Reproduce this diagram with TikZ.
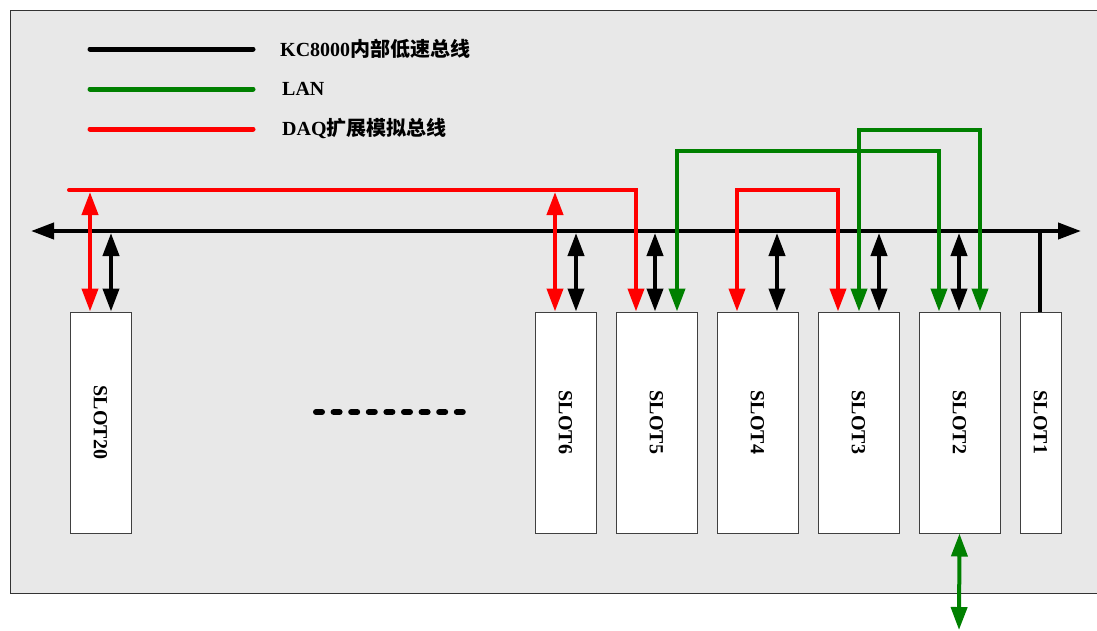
\documentclass[tikz,border=0pt]{standalone}
\usepackage{fontspec}
\setmainfont{Liberation Serif}
\newfontfamily\cjk{Noto Sans CJK SC}
\usetikzlibrary{arrows.meta}

\definecolor{bggray}{RGB}{232,232,232}
\definecolor{langreen}{RGB}{0,128,0}

\tikzset{
    tip/.style={-{Triangle[length=23pt,width=16pt]}},
    dtip/.style={{Triangle[length=23pt,width=16pt]}-{Triangle[length=23pt,width=16pt]}},
    slot/.style={draw=black!75, line width=1pt, fill=white, inner sep=0pt,
        minimum height=221pt, font=\fontsize{20}{20}\selectfont\bfseries},
    ctrl/.style={line width=4pt, black},
    daq/.style={line width=4pt, red},
    lan/.style={line width=4pt, langreen},
    legendtext/.style={anchor=west, inner sep=0pt, font=\fontsize{20}{20}\selectfont\bfseries},
}

\begin{document}
\begin{tikzpicture}[x=1pt, y=-1pt]

    % 描画範囲と背景
    \useasboundingbox (0,0) rectangle (1097,630);
    \draw [fill=bggray, draw=black!80, line width=1pt] (10,10) rectangle (1110,593);

    % 凡例
    \node [legendtext] (lgctrl) at (280,49) {KC8000{\cjk 内部低速总线}};
    \node [legendtext] (lglan) at (282,89) {LAN};
    \node [legendtext] (lgdaq) at (282,129) {DAQ{\cjk 扩展模拟总线}};
    \draw [ctrl, line width=5pt, line cap=round] (90,49) -- (253,49);
    \draw [lan, line width=5pt, line cap=round] (90,89) -- (253,89);
    \draw [daq, line width=5pt, line cap=round] (90,129) -- (253,129);

    % スロット
    \node [slot, minimum width=61pt] (s20) at (100.5,422.5) {\rotatebox{-90}{SLOT20}};
    \node [slot, minimum width=61pt] (s6) at (565.5,422.5) {\rotatebox{-90}{SLOT6}};
    \node [slot, minimum width=81pt] (s5) at (656.5,422.5) {\rotatebox{-90}{SLOT5}};
    \node [slot, minimum width=81pt] (s4) at (757.5,422.5) {\rotatebox{-90}{SLOT4}};
    \node [slot, minimum width=81pt] (s3) at (858.5,422.5) {\rotatebox{-90}{SLOT3}};
    \node [slot, minimum width=81pt] (s2) at (959.5,422.5) {\rotatebox{-90}{SLOT2}};
    \node [slot, minimum width=41pt] (s1) at (1040.5,422.5) {\rotatebox{-90}{SLOT1}};

    % 省略記号
    \draw [line width=6pt, line cap=round, dash pattern=on 6pt off 11.6pt] (316,412) -- (474,412);

    % 内部バス
    \coordinate (busL) at (31,231);
    \coordinate (busR) at (1081,231);
    \draw [ctrl, dtip] (busL) -- (busR);

    \coordinate (b20) at (111,233);
    \coordinate (b6) at (576,233);
    \coordinate (b5) at (655,233);
    \coordinate (b4) at (777,233);
    \coordinate (b3) at (879,233);
    \coordinate (b2) at (959,233);
    \coordinate (b1) at (1040,231);
    \draw [ctrl, dtip] (b20) -- (b20 |- s20.north);
    \draw [ctrl, dtip] (b6) -- (b6 |- s6.north);
    \draw [ctrl, dtip] (b5) -- (b5 |- s5.north);
    \draw [ctrl, dtip] (b4) -- (b4 |- s4.north);
    \draw [ctrl, dtip] (b3) -- (b3 |- s3.north);
    \draw [ctrl, dtip] (b2) -- (b2 |- s2.north);
    \draw [ctrl] (b1) -- (b1 |- s1.north);

    % DAQ拡張アナログバス
    \coordinate (daqL) at (69,190);
    \coordinate (r20) at (90,192);
    \coordinate (r6) at (555,192);
    \draw [daq, tip, line cap=round] (daqL) -- (636,190) -- (636,190 |- s5.north);
    \draw [daq, dtip] (r20) -- (r20 |- s20.north);
    \draw [daq, dtip] (r6) -- (r6 |- s6.north);
    \draw [daq, dtip] (737,190 |- s4.north) -- (737,190) -- (838,190) -- (838,190 |- s3.north);

    % LAN
    \draw [lan, dtip] (677,151 |- s5.north) -- (677,151) -- (939,151) -- (939,151 |- s2.north);
    \draw [lan, dtip] (859,130 |- s3.north) -- (859,130) -- (980,130) -- (980,130 |- s2.north);
    \coordinate (lanout) at (959,630);
    \draw [lan, dtip] (s2.south) -- (lanout);

\end{tikzpicture}
\end{document}
